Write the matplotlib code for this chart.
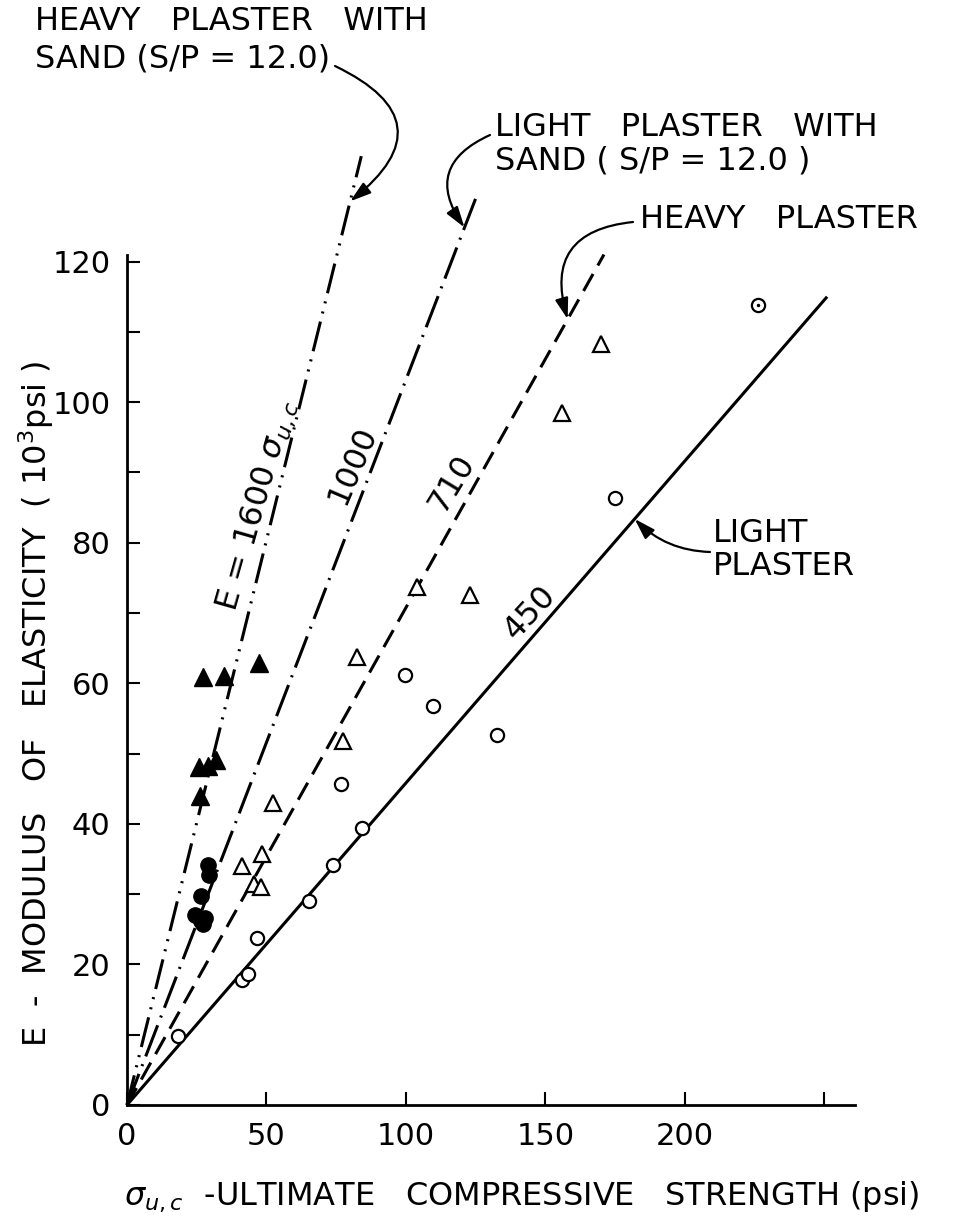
import numpy as np
import matplotlib
matplotlib.use("Agg")
import matplotlib.pyplot as plt

# E vs ultimate compressive strength, plaster models
# open circles: light plaster, open triangles: heavy plaster
light_x = [18.2, 41.2, 43.4, 46.6, 65.4, 73.7, 84.2, 76.6, 99.6, 109.7, 132.6, 174.9, 226.3]
light_y = [9.8, 17.8, 18.6, 23.8, 29.0, 34.1, 39.4, 45.7, 61.2, 56.8, 52.6, 86.3, 113.8]
heavy_x = [41.1, 45.5, 47.9, 48.3, 52.4, 77.5, 82.3, 103.8, 122.9, 155.8, 169.9]
heavy_y = [34.0, 31.5, 31.0, 35.7, 42.9, 51.8, 63.7, 73.7, 72.5, 98.5, 108.3]
# filled: with sand (S/P = 12.0)
heavy_sand_x = [26.2, 25.9, 29.2, 31.9, 27.4, 34.8, 47.4]
heavy_sand_y = [43.9, 48.1, 48.2, 49.1, 60.9, 61.1, 62.9]
light_sand_x = [29.2, 29.5, 26.4, 24.4, 28.0, 27.4, 26.6]
light_sand_y = [34.1, 32.7, 29.7, 27.0, 26.6, 25.8, 26.2]

# fitted lines E = k * sigma, drawn from origin to end point
line_labels = [r"E = 1600 $\sigma_{u,c}$", "1000", "710", "450"]
line_end_x = [84, 126, 171, 251]
line_end_y = [135, 130, 121, 115]

x_ticks = [0, 50, 100, 150, 200, 250]
x_ticklabels = ["0", "50", "100", "150", "200", ""]
y_ticks = [0, 20, 40, 60, 80, 100, 120]

plt.rcParams["lines.scale_dashes"] = False
plt.rcParams["mathtext.fontset"] = "dejavusans"

W, H = 958, 1218
fig = plt.figure(figsize=(W / 100, H / 100), dpi=100)
ax = fig.add_axes([127 / W, (H - 1105) / H, 728 / W, 984 / H])
ax.set_xlim(0, 261)
ax.set_ylim(0, 140)

styles = [(0, (22, 6, 1.5, 6, 1.5, 6)), (0, (24, 6, 1.5, 6)), (0, (14, 7)), "-"]
for i in range(4):
    ax.plot([0, line_end_x[i]], [0, line_end_y[i]], color="k", lw=2.2,
            linestyle=styles[i], solid_capstyle="butt", clip_on=False, zorder=2)

ax.plot(light_x, light_y, "o", ls="none", mfc="white", mec="k", ms=9.5, mew=1.6, zorder=3)
ax.plot(heavy_x, heavy_y, "^", ls="none", mfc="white", mec="k", ms=11, mew=1.6, zorder=3)
ax.plot(heavy_sand_x, heavy_sand_y, "^", ls="none", color="k", ms=13, zorder=3)
ax.plot(light_sand_x, light_sand_y, "o", ls="none", color="k", ms=11, zorder=3)
# dotted centre on the top light plaster point
ax.plot(light_x[-1:], light_y[-1:], ".", color="k", ms=3, zorder=4)

for s in ["top", "right"]:
    ax.spines[s].set_visible(False)
for s in ["left", "bottom"]:
    ax.spines[s].set_linewidth(2)
ax.spines["left"].set_bounds(0, 121)

ax.set_xticks(x_ticks)
ax.set_xticklabels(x_ticklabels)
ax.set_yticks(y_ticks)
ax.set_yticks(np.arange(10, 120, 20), minor=True)
ax.tick_params(which="both", direction="in", length=9.5, width=1.5, labelsize=22, pad=12)

fs = 23
# axis titles
fig.text(36, H - 704, "E  -  MODULUS   OF   ELASTICITY  ( 10$^3$psi )", rotation=90,
         ha="center", va="center", fontsize=fs, transform=None)
fig.text(522, H - 1197, r"$\sigma_{u,c}$  -ULTIMATE   COMPRESSIVE   STRENGTH (psi)",
         ha="center", va="center", fontsize=fs, transform=None)

# labels along the lines
label_pos = [(47.0, 85.3), (81.0, 91.0), (116.5, 88.5), (144.4, 70.0)]
for i in range(4):
    p0 = ax.transData.transform((0, 0))
    p1 = ax.transData.transform((line_end_x[i], line_end_y[i]))
    ang = np.degrees(np.arctan2(p1[1] - p0[1], p1[0] - p0[0]))
    ax.text(label_pos[i][0], label_pos[i][1], line_labels[i], rotation=ang - 2,
            rotation_mode="anchor", ha="center", va="center", fontsize=23)

# callouts
def fpx(x, y):
    return (x, H - y)

fig.text(35, H - 6, "HEAVY   PLASTER   WITH\nSAND (S/P = 12.0)", ha="left", va="top",
         fontsize=fs, linespacing=1.25, transform=None)
fig.text(495, H - 112, "LIGHT   PLASTER   WITH\nSAND ( S/P = 12.0 )", ha="left", va="top",
         fontsize=fs, linespacing=1.1, transform=None)
fig.text(640, H - 220, "HEAVY   PLASTER", ha="left", va="center", fontsize=fs, transform=None)
fig.text(713, H - 550, "LIGHT\nPLASTER", ha="left", va="center", fontsize=fs,
         linespacing=1.1, transform=None)

arrows = [
    (80, 0, fpx(335, 66), -0.8),
    (121, 1, fpx(490, 135), 0.6),
    (158, 2, fpx(633, 222), 0.6),
    (182, 3, fpx(710, 552), -0.2),
]
for xt, i, start, rad in arrows:
    k = line_end_y[i] / line_end_x[i]
    ax.annotate("", xy=(xt, k * xt), xycoords="data", xytext=start,
                textcoords="figure pixels",
                arrowprops=dict(arrowstyle="-|>,head_length=0.7,head_width=0.22",
                                connectionstyle="arc3,rad=%s" % rad, color="k",
                                lw=1.6, shrinkA=0, shrinkB=0, mutation_scale=18))

fig.savefig("out.png", dpi=100)
